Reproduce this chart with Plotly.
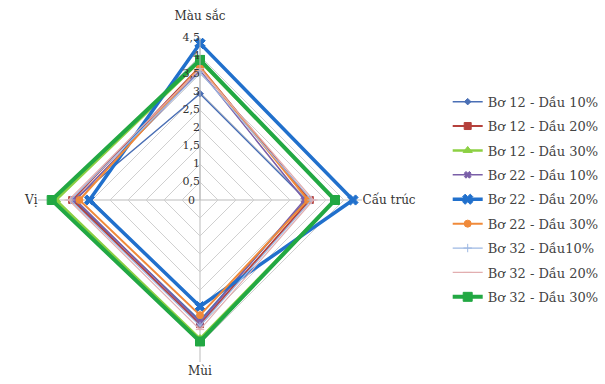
import plotly.graph_objects as go

categories = ["Màu sắc", "Cấu trúc", "Mùi", "Vị"]
category_labels = ["Màu sắc<br> ", "Cấu trúc", "Mùi", "Vị"]
series_names = [
    "Bơ 12 - Dầu 10%", "Bơ 12 - Dầu 20%", "Bơ 12 - Dầu 30%",
    "Bơ 22 - Dầu 10%", "Bơ 22 - Dầu 20%", "Bơ 22 - Dầu 30%",
    "Bơ 32 - Dầu10%", "Bơ 32 - Dầu 20%", "Bơ 32 - Dầu 30%",
]
bo12_dau10 = [2.95, 2.95, 3.35, 3.50]
bo12_dau20 = [3.70, 3.05, 3.45, 3.55]
bo12_dau30 = [3.85, 3.75, 3.85, 4.00]
bo22_dau10 = [3.60, 2.90, 3.40, 3.45]
bo22_dau20 = [4.35, 4.25, 2.96, 3.07]
bo22_dau30 = [3.70, 3.00, 3.20, 3.35]
bo32_dau10 = [3.55, 3.10, 3.50, 3.60]
bo32_dau20 = [3.65, 3.15, 3.60, 3.65]
bo32_dau30 = [3.89, 3.75, 3.93, 4.12]
series_values = [bo12_dau10, bo12_dau20, bo12_dau30, bo22_dau10, bo22_dau20,
                 bo22_dau30, bo32_dau10, bo32_dau20, bo32_dau30]
tick_vals = [0, 0.5, 1, 1.5, 2, 2.5, 3, 3.5, 4, 4.5]
tick_text = ["0", "0,5", "1", "1,5", "2", "2,5", "3", "3,5", "4", "4,5"]

colors = ["#4A6FB5", "#B5413C", "#8CD043", "#7A5FA8", "#2170CC",
          "#F08A3A", "#9DB8E3", "#E2AEB0", "#22A843"]
widths = [1.5, 2, 2.5, 1.5, 3.5, 2, 1.2, 1.2, 4]
symbols = ["diamond", "square", "triangle-up", "x", "x", "circle",
           "cross-thin", "line-ew", "square"]
sizes = [5, 7, 8, 6, 9, 7, 6, 6, 9]

FONT = "DejaVu Serif"
DOM_X = [38/605, 362/605]
DOM_Y = [1-362/384, 1-38/384]

fig = go.Figure()
for i, (name, vals) in enumerate(zip(series_names, series_values)):
    fig.add_trace(go.Scatterpolar(
        r=vals + [vals[0]],
        theta=categories + [categories[0]],
        mode="lines+markers",
        name=name,
        legendgroup=name,
        line=dict(color=colors[i], width=widths[i]),
        marker=dict(symbol=symbols[i], size=sizes[i], color=colors[i],
                    line=dict(color=colors[i], width=1)),
    ))

# radial tick labels (non-zero), on the left of the vertical axis
fig.add_trace(go.Scatterpolar(
    r=tick_vals[1:],
    theta=[categories[0]] * (len(tick_vals) - 1),
    mode="text",
    text=tick_text[1:],
    textposition="middle left",
    textfont=dict(family=FONT, size=11, color="#333333"),
    showlegend=False,
    hoverinfo="skip",
    cliponaxis=False,
))

fig.update_layout(
    width=605, height=384,
    paper_bgcolor="white",
    margin=dict(l=0, r=0, t=0, b=0),
    font=dict(family=FONT, size=12, color="#444444"),
    polar=dict(
        domain=dict(x=DOM_X, y=DOM_Y),
        bgcolor="white",
        gridshape="linear",
        angularaxis=dict(
            rotation=90, direction="clockwise",
            tickmode="array", tickvals=categories, ticktext=category_labels,
            showline=False,
            gridcolor="#BBBBBB", gridwidth=1,
            tickfont=dict(family=FONT, size=12, color="#333333"),
            ticks="",
        ),
        radialaxis=dict(
            range=[0, 4.5], angle=90,
            tickvals=tick_vals,
            showticklabels=False,
            showline=True, linecolor="#BBBBBB",
            gridcolor="#D0D0D0", gridwidth=1,
            ticks="",
        ),
    ),
    legend=dict(
        x=0.74, y=0.48, xanchor="left", yanchor="middle",
        font=dict(family=FONT, size=13, color="#444444"),
        tracegroupgap=4.5,
        itemwidth=30,
        bgcolor="rgba(0,0,0,0)",
    ),
    showlegend=True,
)

# the "0" label sits at the centre of the polar domain
fig.add_annotation(
    x=(DOM_X[0] + DOM_X[1]) / 2, y=(DOM_Y[0] + DOM_Y[1]) / 2,
    xref="paper", yref="paper", xanchor="right", yanchor="middle",
    xshift=-3, text=tick_text[0], showarrow=False,
    font=dict(family=FONT, size=11, color="#333333"),
)

fig.write_html("out.html", config={"displayModeBar": False},
               post_script="document.body.style.margin='0';")
